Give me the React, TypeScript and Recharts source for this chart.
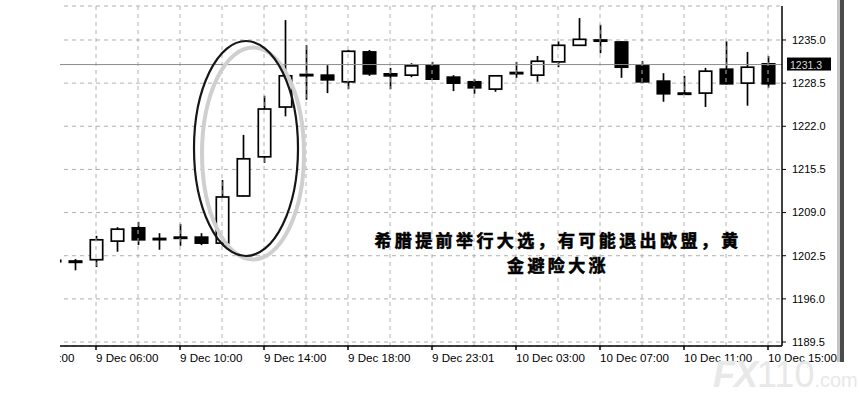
import React from "react";
import {
  ComposedChart,
  Bar,
  XAxis,
  YAxis,
  CartesianGrid,
  ReferenceLine,
  ReferenceDot,
} from "recharts";

// bar index (hourly bars, MT4 style, evenly spaced)
const barIndex = [
  -2, -1, 0, 1, 2, 3, 4, 5, 6, 7, 8, 9, 10, 11, 12, 13, 14, 15, 16, 17, 18,
  19, 20, 21, 22, 23, 24, 25, 26, 27, 28, 29, 30, 31, 32, 33, 34,
];
const barTime = [
  "9 Dec 02:00", "9 Dec 03:00", "9 Dec 04:00", "9 Dec 05:00", "9 Dec 06:00",
  "9 Dec 07:00", "9 Dec 08:00", "9 Dec 09:00", "9 Dec 10:00", "9 Dec 11:00",
  "9 Dec 12:00", "9 Dec 13:00", "9 Dec 14:00", "9 Dec 15:00", "9 Dec 16:00",
  "9 Dec 17:00", "9 Dec 18:00", "9 Dec 19:00", "9 Dec 20:00", "9 Dec 21:00",
  "9 Dec 23:01", "10 Dec 00:00", "10 Dec 01:00", "10 Dec 02:00", "10 Dec 03:00",
  "10 Dec 04:00", "10 Dec 05:00", "10 Dec 06:00", "10 Dec 07:00", "10 Dec 08:00",
  "10 Dec 09:00", "10 Dec 10:00", "10 Dec 11:00", "10 Dec 12:00", "10 Dec 13:00",
  "10 Dec 14:00", "10 Dec 15:00",
];
const opens = [
  null, null, 1201.8, 1201.7, 1201.9, 1204.7, 1206.7, 1205.1, 1205.2, 1205.3,
  1204.4, 1211.5, 1217.4, 1224.9, 1229.7, 1229.7, 1228.7, 1233.2, 1229.9, 1229.7,
  1231.2, 1229.4, 1228.7, 1227.6, 1230.0, 1229.7, 1231.7, 1234.2, 1235.0, 1234.7,
  1231.1, 1228.8, 1227.0, 1227.0, 1230.6, 1228.5, 1231.4,
];
const highs = [
  null, null, 1202.0, 1202.0, 1205.5, 1206.8, 1207.6, 1205.9, 1207.3, 1205.9,
  1213.9, 1220.7, 1226.6, 1238.0, 1234.2, 1231.2, 1233.5, 1233.5, 1230.8, 1231.5,
  1231.7, 1229.7, 1229.1, 1229.7, 1231.7, 1232.6, 1234.8, 1238.3, 1237.3, 1234.8,
  1231.8, 1230.0, 1229.6, 1230.8, 1234.8, 1233.2, 1232.6,
];
const lows = [
  null, null, 1201.5, 1200.3, 1200.8, 1203.1, 1204.1, 1203.4, 1204.0, 1204.1,
  1204.3, 1211.4, 1216.5, 1223.5, 1226.0, 1227.0, 1227.6, 1229.6, 1227.6, 1229.4,
  1229.0, 1227.3, 1226.9, 1227.2, 1229.3, 1228.7, 1230.9, 1234.1, 1233.0, 1229.3,
  1228.6, 1225.7, 1226.8, 1224.9, 1228.3, 1225.1, 1227.8,
];
const closes = [
  null, null, 1201.6, 1201.5, 1204.9, 1206.5, 1204.9, 1205.0, 1205.3, 1204.4,
  1211.35, 1217.1, 1224.6, 1229.6, 1229.8, 1229.0, 1233.3, 1229.9, 1229.6, 1231.1,
  1229.1, 1228.5, 1227.8, 1229.6, 1230.1, 1231.8, 1234.2, 1235.1, 1234.9, 1230.9,
  1228.7, 1226.9, 1226.9, 1230.3, 1228.4, 1230.9, 1228.4,
];

const xTickIndex = [-2, 2, 6, 10, 14, 18, 22, 26, 30, 34];
const xGridIndex = [0, 2, 4, 6, 8, 10, 12, 14, 16, 18, 20, 22, 24, 26, 28, 30, 32, 34];
const yTicks = [1189.5, 1196.0, 1202.5, 1209.0, 1215.5, 1222.0, 1228.5, 1235.0];
const yDomain = [1188.9, 1240.12];
const lastPrice = 1231.3;
const noteLines = ["希腊提前举行大选，有可能退出欧盟，黄", "金避险大涨"];
const circledBar = 9;
const circledPrice = 1218.65;

const data = barIndex.map((idx, k) => ({
  idx,
  time: barTime[k],
  open: opens[k],
  high: highs[k],
  low: lows[k],
  close: closes[k],
  range: opens[k] == null ? null : [lows[k], highs[k]],
}));

const FONT = "'Liberation Sans', Arial, sans-serif";
const GRID = "#b0b0b0";

const Candle = (props: any) => {
  const { x, y, width, height, payload } = props;
  if (!payload || payload.open == null) return null;
  const { open, close, high, low } = payload;
  const k = height / (high - low);
  const cx = x + width / 2;
  const yOf = (v: number) => y + (high - v) * k;
  const top = yOf(Math.max(open, close));
  const bot = yOf(Math.min(open, close));
  const bodyH = Math.max(bot - top, 1.2);
  const bull = close >= open;
  return (
    <g>
      <line x1={cx} x2={cx} y1={y} y2={y + height} stroke="#000" strokeWidth={1.7} />
      <rect
        x={x + 0.8}
        y={top}
        width={width - 1.6}
        height={bodyH}
        fill={bull ? "#fff" : "#000"}
        stroke="#000"
        strokeWidth={1.7}
      />
    </g>
  );
};

const XTick = (props: any) => {
  const { x, y, payload } = props;
  const row = data.find((d) => d.idx === payload.value);
  return (
    <g>
      <line x1={x} x2={x} y1={y} y2={y + 4} stroke="#000" strokeWidth={1.5} />
      <text x={x} y={y + 16} textAnchor="start" fontSize={11.6} fontFamily={FONT} fill="#000">
        {row ? row.time : ""}
      </text>
    </g>
  );
};

const PriceLabel = (props: any) => {
  const vb = props.viewBox || {};
  const x0 = vb.x + vb.width + 5;
  return (
    <g>
      <rect x={x0} y={vb.y - 7} width={44} height={13} fill="#000" />
      <text x={x0 + 3} y={vb.y + 4} fontSize={10.5} fontFamily={FONT} fill="#d8d8d8">
        {lastPrice.toFixed(1)}
      </text>
    </g>
  );
};

const EllipseMark = (props: any) => {
  const { cx, cy } = props;
  if (cx == null || cy == null) return null;
  return (
    <g>
      <ellipse cx={cx + 10} cy={cy + 5} rx={51} ry={106} fill="none" stroke="#cfcfcf" strokeWidth={4} />
      <ellipse cx={cx + 3} cy={cy} rx={52} ry={107.5} fill="none" stroke="#161616" strokeWidth={2.2} />
    </g>
  );
};

export default function App() {
  return (
    <div
      style={{
        position: "absolute",
        left: 0,
        top: 0,
        width: 859,
        height: 402,
        background: "#fff",
        overflow: "hidden",
      }}
    >
      <div
        style={{
          position: "absolute",
          left: 60,
          top: 0,
          width: 799,
          height: 402,
          overflow: "hidden",
        }}
      >
        <div style={{ position: "absolute", left: -60, top: 0 }}>
          <ComposedChart
            width={859}
            height={402}
            data={data}
            margin={{ top: 6, right: 0, bottom: 0, left: 0 }}
          >
            <CartesianGrid vertical={false} stroke={GRID} strokeDasharray="4 4" />
            {xGridIndex.map((g) => (
              <ReferenceLine key={"g" + g} x={g} stroke={GRID} strokeDasharray="4 4" />
            ))}
            <XAxis
              dataKey="idx"
              type="category"
              ticks={xTickIndex}
              interval={0}
              height={56}
              padding={{ left: 1.5, right: 3.5 }}
              tickLine={false}
              tickSize={0}
              tickMargin={0}
              tick={<XTick />}
              axisLine={{ stroke: "#000", strokeWidth: 1.5 }}
            />
            <YAxis
              orientation="right"
              width={77}
              domain={yDomain}
              allowDataOverflow
              ticks={yTicks}
              interval={0}
              tickFormatter={(v: number) => v.toFixed(1)}
              tickSize={4}
              tickMargin={6}
              tick={{ fontSize: 11, fill: "#000", fontFamily: FONT }}
              tickLine={{ stroke: "#000" }}
              axisLine={{ stroke: "#000", strokeWidth: 1.5 }}
            />
            <ReferenceLine
              y={lastPrice}
              stroke="#8c8c8c"
              strokeWidth={1}
              label={<PriceLabel />}
            />
            <Bar
              dataKey="range"
              barSize={14}
              shape={<Candle />}
              isAnimationActive={false}
            />
            <ReferenceDot
              x={circledBar}
              y={circledPrice}
              r={0}
              ifOverflow="visible"
              shape={<EllipseMark />}
            />
          </ComposedChart>
        </div>
      </div>

      {/* window edge */}
      <div style={{ position: "absolute", left: 837, top: 0, width: 3, height: 362, background: "#c4c4c4" }} />
      <div style={{ position: "absolute", left: 840, top: 0, width: 4, height: 362, background: "#4a4a4a" }} />

      {/* annotation */}
      <div
        style={{
          position: "absolute",
          left: 358,
          top: 227,
          width: 400,
          textAlign: "center",
          fontFamily: "'Noto Sans CJK SC', sans-serif",
          fontWeight: 700,
          fontSize: 17,
          lineHeight: "25px",
          letterSpacing: 3.4,
          color: "#000",
          WebkitTextStroke: "0.6px #000",
        }}
      >
        <div>{noteLines[0]}</div>
        <div>{noteLines[1]}</div>
      </div>

      {/* watermark */}
      <div
        style={{
          position: "absolute",
          left: 713,
          top: 354,
          fontFamily: "'Liberation Sans', Arial, sans-serif",
          color: "#e8e8e8",
          whiteSpace: "nowrap",
        }}
      >
        <span style={{ fontSize: 36, fontWeight: 700, letterSpacing: -1, fontStyle: "italic" }}>FX</span>
        <span style={{ fontSize: 36, fontWeight: 400 }}>110</span>
        <span style={{ fontSize: 20, fontWeight: 400 }}>.com</span>
      </div>
    </div>
  );
}
